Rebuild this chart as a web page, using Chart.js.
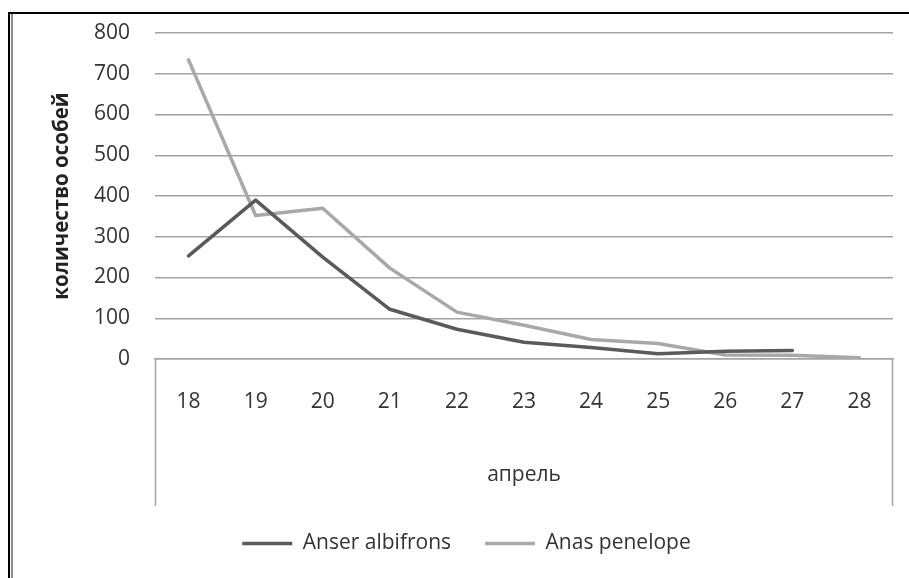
<!DOCTYPE html>
<html>
<head>
<meta charset="utf-8">
<script src="https://cdn.jsdelivr.net/npm/chart.js@4/dist/chart.umd.min.js"></script>
<style>
  html, body { margin: 0; padding: 0; background: #fff; }
  #wrap { width: 909px; height: 578px; position: relative; }
</style>
</head>
<body>
<div id="wrap"><canvas id="c" width="909" height="578"></canvas></div>
<script>
// Days of April and counts of birds per day
const days = ['18', '19', '20', '21', '22', '23', '24', '25', '26', '27', '28'];
const anserAlbifrons = [253, 390, 250, 122, 73, 41, 28, 13, 19, 21, null];
const anasPenelope = [734, 352, 370, 223, 115, 83, 48, 38, 10, 9, 3];
const yTicks = [0, 100, 200, 300, 400, 500, 600, 700, 800];

const FONT = "'Open Sans', 'Noto Sans', sans-serif";
const TEXT = '#333333';
const GRID = '#a3a3a3';
const AXIS_BOX_DEPTH = 147; // depth of the box drawn under the category axis

// Frame around the figure and the box under the category axis
const framePlugin = {
  id: 'frame',
  beforeDraw(chart) {
    const ctx = chart.ctx;
    ctx.save();
    ctx.fillStyle = '#ffffff';
    ctx.fillRect(0, 0, chart.width, chart.height);
    ctx.fillStyle = '#000000';
    ctx.fillRect(8, 12, chart.width - 8, 2);
    ctx.fillRect(8, 12, 2, chart.height - 12);
    ctx.fillStyle = '#8a8a8a';
    ctx.fillRect(11, 14, 2, chart.height - 14);
    ctx.restore();
  },
  afterDatasetsDraw(chart) {
    const {ctx, chartArea} = chart;
    const bottom = chartArea.bottom + AXIS_BOX_DEPTH;
    ctx.save();
    ctx.strokeStyle = GRID;
    ctx.lineWidth = 1.5;
    ctx.beginPath();
    ctx.moveTo(Math.round(chartArea.left) + 0.5, chartArea.bottom);
    ctx.lineTo(Math.round(chartArea.left) + 0.5, bottom);
    ctx.moveTo(Math.round(chartArea.right) - 0.5, chartArea.bottom);
    ctx.lineTo(Math.round(chartArea.right) - 0.5, bottom);
    ctx.stroke();
    ctx.restore();
  }
};

new Chart(document.getElementById('c'), {
  type: 'line',
  data: {
    labels: days,
    datasets: [
      {
        label: 'Anser albifrons',
        data: anserAlbifrons,
        borderColor: '#5a5a5a',
        backgroundColor: '#5a5a5a',
        borderWidth: 3.5,
        pointRadius: 0,
        tension: 0,
        borderJoinStyle: 'round',
        borderCapStyle: 'round',
        spanGaps: false
      },
      {
        label: 'Anas penelope',
        data: anasPenelope,
        borderColor: '#a8a8a8',
        backgroundColor: '#a8a8a8',
        borderWidth: 3.5,
        pointRadius: 0,
        tension: 0,
        borderJoinStyle: 'round',
        borderCapStyle: 'round'
      }
    ]
  },
  options: {
    responsive: false,
    animation: false,
    devicePixelRatio: 1,
    layout: { padding: { top: 33, left: 40, right: 16, bottom: 14 } },
    plugins: {
      tooltip: { enabled: false },
      legend: {
        position: 'bottom',
        labels: {
          usePointStyle: true,
          pointStyle: 'line',
          pointStyleWidth: 50,
          color: TEXT,
          font: { family: FONT, size: 21 },
          padding: 34
        }
      }
    },
    scales: {
      x: {
        type: 'category',
        offset: true,
        afterFit(scale) { scale.height = 140; },
        grid: { display: false, drawTicks: false },
        border: { display: true, color: GRID, width: 1.5 },
        ticks: {
          color: TEXT,
          font: { family: FONT, size: 21 },
          padding: 30,
          maxRotation: 0,
          autoSkip: false
        },
        title: {
          display: true,
          text: 'апрель',
          color: TEXT,
          font: { family: FONT, size: 21 },
          padding: { top: 0, bottom: 11 }
        }
      },
      y: {
        min: 0,
        max: 800,
        afterFit(scale) { scale.width = 115; },
        afterBuildTicks(scale) { scale.ticks = yTicks.map(v => ({ value: v })); },
        grid: { color: GRID, lineWidth: 1.5, drawTicks: true, tickLength: 22, tickColor: 'rgba(0,0,0,0)' },
        border: { display: false },
        ticks: {
          color: TEXT,
          font: { family: FONT, size: 21 },
          padding: 3
        },
        title: {
          display: true,
          text: 'количество особей',
          color: '#222222',
          font: { family: FONT, size: 20.5, weight: 'bold' },
          padding: { top: 10, bottom: 0 }
        }
      }
    }
  },
  plugins: [framePlugin]
});
</script>
</body>
</html>
